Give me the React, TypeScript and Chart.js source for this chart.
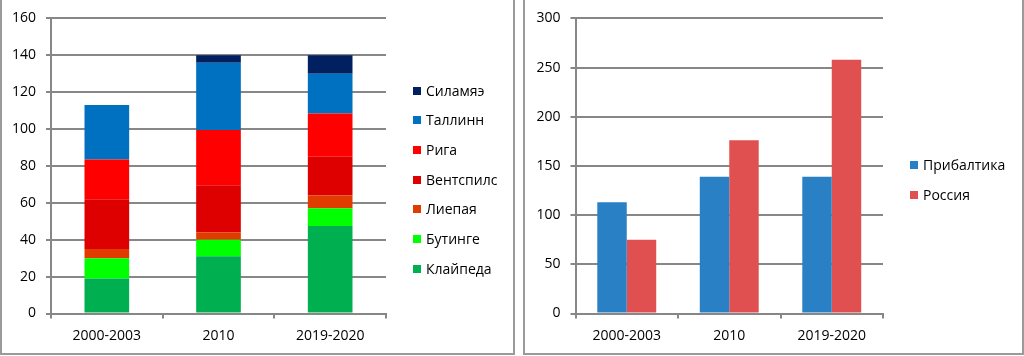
import React, { useEffect, useRef } from "react";
import { Chart, registerables } from "chart.js";
Chart.register(...registerables);

const periods = ["2000-2003", "2010", "2019-2020"];

const portNames = ["Клайпеда", "Бутинге", "Лиепая", "Вентспилс", "Рига", "Таллинн", "Силамяэ"];
const portColors = ["#00B050", "#00FF00", "#E03C00", "#DE0000", "#FF0000", "#0070C0", "#002060"];
const klaipeda = [19, 31, 47.5];
const butinge = [11, 9, 9.5];
const liepaja = [5, 4, 7];
const ventspils = [27, 25.5, 21];
const riga = [21.5, 30, 23.5];
const tallinn = [29.5, 36.5, 21.5];
const sillamae = [0, 4, 10];
const portValues = [klaipeda, butinge, liepaja, ventspils, riga, tallinn, sillamae];
const leftMax = 160;
const leftStep = 20;

const regionNames = ["Прибалтика", "Россия"];
const regionColors = ["#2A80C4", "#E05050"];
const baltic = [113, 139, 139];
const russia = [75, 176, 258];
const regionValues = [baltic, russia];
const rightMax = 300;
const rightStep = 50;

const FONT = "'Open Sans', 'Noto Sans', sans-serif";
const GRID = "#878787";

function baseOptions(max: number, step: number, padRight: number, yWidth: number, catPct: number, barPct: number, stacked: boolean) {
  return {
    animation: false as const,
    responsive: false,
    maintainAspectRatio: false,
    layout: { padding: { top: 18, right: padRight, left: 0, bottom: 0 } },
    plugins: { legend: { display: false }, tooltip: { enabled: false }, title: { display: false } },
    datasets: { bar: { categoryPercentage: catPct, barPercentage: barPct } },
    scales: {
      x: {
        stacked,
        offset: true,
        grid: { offset: true, drawOnChartArea: false, drawTicks: true, tickLength: 5, color: GRID, lineWidth: 2 },
        border: { display: true, color: GRID, width: 2 },
        ticks: { padding: 9, color: "#000", font: { family: FONT, size: 14 }, maxRotation: 0 },
        afterFit: (s: any) => { s.height = 42.5; },
      },
      y: {
        stacked,
        min: 0,
        max,
        ticks: { stepSize: step, padding: 10, color: "#000", font: { family: FONT, size: 14 } },
        grid: { color: GRID, lineWidth: 2, drawTicks: true, tickLength: 5 },
        border: { display: true, color: GRID, width: 2 },
        afterFit: (s: any) => { s.width = yWidth; },
      },
    },
  };
}

function ChartCanvas({ config, left, width }: { config: any; left: number; width: number }) {
  const ref = useRef<HTMLCanvasElement | null>(null);
  useEffect(() => {
    if (!ref.current) return;
    const c = new Chart(ref.current, config);
    return () => c.destroy();
  }, []);
  return (
    <canvas
      ref={ref}
      width={width}
      height={356}
      style={{ position: "absolute", left, top: 0, width, height: 356 }}
    />
  );
}

function Legend({ names, colors, left, top, spacing }: { names: string[]; colors: string[]; left: number; top: number; spacing: number }) {
  return (
    <>
      {names.map((n, i) => (
        <div
          key={n}
          style={{
            position: "absolute",
            left,
            top: top + i * spacing - 10,
            height: 20,
            display: "flex",
            alignItems: "center",
            fontFamily: FONT,
            fontSize: 14,
            color: "#000",
            whiteSpace: "nowrap",
          }}
        >
          <span style={{ display: "inline-block", width: 8, height: 8, background: colors[i], marginRight: 5, marginTop: 1 }} />
          <span>{n}</span>
        </div>
      ))}
    </>
  );
}

export default function App() {
  const leftConfig = {
    type: "bar",
    data: {
      labels: periods,
      datasets: portNames.map((n, i) => ({
        label: n,
        data: portValues[i],
        backgroundColor: portColors[i],
        borderWidth: 0,
      })),
    },
    options: baseOptions(leftMax, leftStep, 512 - 386, 51, 1, 0.4, true),
  };
  const rightConfig = {
    type: "bar",
    data: {
      labels: periods,
      datasets: regionNames.map((n, i) => ({
        label: n,
        data: regionValues[i],
        backgroundColor: regionColors[i],
        borderWidth: 0,
      })),
    },
    options: baseOptions(rightMax, rightStep, 496 - 357, 49.5, 0.575, 1, false),
  };
  const revNames = [...portNames].reverse();
  const revColors = [...portColors].reverse();
  return (
    <div style={{ position: "absolute", left: 0, top: 0, width: 1024, height: 356, background: "#fff", overflow: "hidden" }}>
      <div style={{ position: "absolute", left: 0, top: -3, width: 515, height: 358, border: "2px solid #9a9a9a", boxSizing: "border-box" }} />
      <div style={{ position: "absolute", left: 523, top: -3, width: 501, height: 358, border: "2px solid #9a9a9a", boxSizing: "border-box" }} />
      <ChartCanvas config={leftConfig} left={0} width={512} />
      <ChartCanvas config={rightConfig} left={526} width={496} />
      <Legend names={revNames} colors={revColors} left={413} top={90} spacing={29.7} />
      <Legend names={regionNames} colors={regionColors} left={910} top={164} spacing={30} />
    </div>
  );
}
